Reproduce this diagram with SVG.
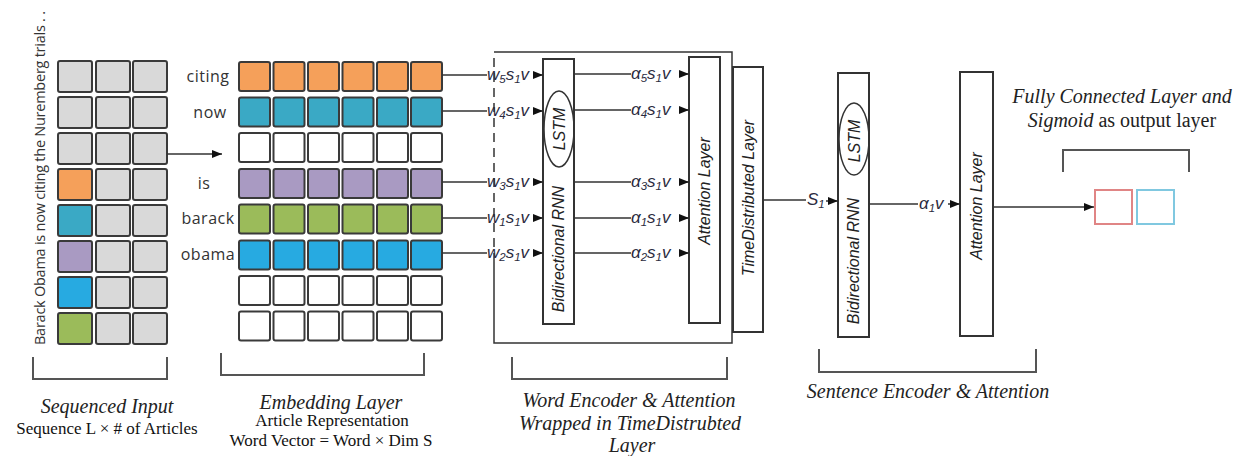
<svg xmlns="http://www.w3.org/2000/svg" width="1246" height="456" viewBox="0 0 1246 456">
  <style>
    .cell { stroke: #3a3a3a; stroke-width: 2; }
    .gray { fill: #d9d9d9; }
    .white { fill: #ffffff; }
    .orange { fill: #f5a05a; }
    .teal { fill: #3aa9c5; }
    .purple { fill: #a99ac2; }
    .green { fill: #9bbb5a; }
    .blue { fill: #27aae1; }
    .box { fill: #ffffff; stroke: #333333; stroke-width: 2; }
    .line { fill: none; stroke: #333333; stroke-width: 1.5; }
    .bracket { fill: none; stroke: #555555; stroke-width: 2; }
    .word { font-family: "Open Sans", "Liberation Sans", sans-serif; font-size: 16px; fill: #333333; text-anchor: middle; letter-spacing: 0.5px; }
    .sentence { font-family: "Open Sans", "Liberation Sans", sans-serif; font-size: 14.5px; fill: #333333; text-anchor: middle; }
    .layer { font-family: "Liberation Sans", sans-serif; font-size: 16px; font-style: italic; fill: #222222; text-anchor: middle; }
    .math { font-family: "Liberation Sans", sans-serif; font-size: 17px; font-style: italic; fill: #2b2b40; }
    .sub { font-size: 11.5px; }
    .cap { font-family: "Liberation Serif", serif; font-size: 20px; font-style: italic; fill: #222222; text-anchor: middle; }
    .cap2 { font-family: "Liberation Serif", serif; font-size: 17px; fill: #111111; text-anchor: middle; }
  </style>
  <defs>
    <marker id="arrow" markerUnits="userSpaceOnUse" markerWidth="10" markerHeight="8" refX="10" refY="4" orient="auto">
      <path d="M0,0 L10,4 L0,8 Z" fill="#111111"/>
    </marker>
  </defs>

  <!-- sentence written vertically beside the input grid -->
  <text class="sentence" transform="translate(45,178) rotate(-90)" textLength="334" lengthAdjust="spacing">Barack Obama is now citing  the Nuremberg trials . .</text>

  <!-- sequenced input grid: 8 rows x 3 columns -->
  <g id="sequenced-input">
    <rect class="cell gray" x="58" y="61" width="34" height="31" rx="2"/>
    <rect class="cell gray" x="96" y="61" width="34" height="31" rx="2"/>
    <rect class="cell gray" x="133" y="61" width="34" height="31" rx="2"/>
    <rect class="cell gray" x="58" y="97" width="34" height="31" rx="2"/>
    <rect class="cell gray" x="96" y="97" width="34" height="31" rx="2"/>
    <rect class="cell gray" x="133" y="97" width="34" height="31" rx="2"/>
    <rect class="cell gray" x="58" y="133" width="34" height="31" rx="2"/>
    <rect class="cell gray" x="96" y="133" width="34" height="31" rx="2"/>
    <rect class="cell gray" x="133" y="133" width="34" height="31" rx="2"/>
    <rect class="cell orange" x="58" y="169" width="34" height="31" rx="2"/>
    <rect class="cell gray" x="96" y="169" width="34" height="31" rx="2"/>
    <rect class="cell gray" x="133" y="169" width="34" height="31" rx="2"/>
    <rect class="cell teal" x="58" y="205" width="34" height="31" rx="2"/>
    <rect class="cell gray" x="96" y="205" width="34" height="31" rx="2"/>
    <rect class="cell gray" x="133" y="205" width="34" height="31" rx="2"/>
    <rect class="cell purple" x="58" y="241" width="34" height="31" rx="2"/>
    <rect class="cell gray" x="96" y="241" width="34" height="31" rx="2"/>
    <rect class="cell gray" x="133" y="241" width="34" height="31" rx="2"/>
    <rect class="cell blue" x="58" y="277" width="34" height="31" rx="2"/>
    <rect class="cell gray" x="96" y="277" width="34" height="31" rx="2"/>
    <rect class="cell gray" x="133" y="277" width="34" height="31" rx="2"/>
    <rect class="cell green" x="58" y="313" width="34" height="31" rx="2"/>
    <rect class="cell gray" x="96" y="313" width="34" height="31" rx="2"/>
    <rect class="cell gray" x="133" y="313" width="34" height="31" rx="2"/>
  </g>

  <!-- embedding layer grid: 8 rows x 6 columns -->
  <g id="embedding-layer">
    <g class="cell orange">
      <rect x="239" y="62" width="31" height="29" rx="2"/><rect x="273.5" y="62" width="31" height="29" rx="2"/><rect x="308" y="62" width="31" height="29" rx="2"/>
      <rect x="342.5" y="62" width="31" height="29" rx="2"/><rect x="377" y="62" width="31" height="29" rx="2"/><rect x="411" y="62" width="31" height="29" rx="2"/>
    </g>
    <g class="cell teal">
      <rect x="239" y="97.5" width="31" height="29" rx="2"/><rect x="273.5" y="97.5" width="31" height="29" rx="2"/><rect x="308" y="97.5" width="31" height="29" rx="2"/>
      <rect x="342.5" y="97.5" width="31" height="29" rx="2"/><rect x="377" y="97.5" width="31" height="29" rx="2"/><rect x="411" y="97.5" width="31" height="29" rx="2"/>
    </g>
    <g class="cell white">
      <rect x="239" y="133" width="31" height="29" rx="2"/><rect x="273.5" y="133" width="31" height="29" rx="2"/><rect x="308" y="133" width="31" height="29" rx="2"/>
      <rect x="342.5" y="133" width="31" height="29" rx="2"/><rect x="377" y="133" width="31" height="29" rx="2"/><rect x="411" y="133" width="31" height="29" rx="2"/>
    </g>
    <g class="cell purple">
      <rect x="239" y="169" width="31" height="29" rx="2"/><rect x="273.5" y="169" width="31" height="29" rx="2"/><rect x="308" y="169" width="31" height="29" rx="2"/>
      <rect x="342.5" y="169" width="31" height="29" rx="2"/><rect x="377" y="169" width="31" height="29" rx="2"/><rect x="411" y="169" width="31" height="29" rx="2"/>
    </g>
    <g class="cell green">
      <rect x="239" y="204.5" width="31" height="29" rx="2"/><rect x="273.5" y="204.5" width="31" height="29" rx="2"/><rect x="308" y="204.5" width="31" height="29" rx="2"/>
      <rect x="342.5" y="204.5" width="31" height="29" rx="2"/><rect x="377" y="204.5" width="31" height="29" rx="2"/><rect x="411" y="204.5" width="31" height="29" rx="2"/>
    </g>
    <g class="cell blue">
      <rect x="239" y="240.5" width="31" height="29" rx="2"/><rect x="273.5" y="240.5" width="31" height="29" rx="2"/><rect x="308" y="240.5" width="31" height="29" rx="2"/>
      <rect x="342.5" y="240.5" width="31" height="29" rx="2"/><rect x="377" y="240.5" width="31" height="29" rx="2"/><rect x="411" y="240.5" width="31" height="29" rx="2"/>
    </g>
    <g class="cell white">
      <rect x="239" y="276" width="31" height="29" rx="2"/><rect x="273.5" y="276" width="31" height="29" rx="2"/><rect x="308" y="276" width="31" height="29" rx="2"/>
      <rect x="342.5" y="276" width="31" height="29" rx="2"/><rect x="377" y="276" width="31" height="29" rx="2"/><rect x="411" y="276" width="31" height="29" rx="2"/>
    </g>
    <g class="cell white">
      <rect x="239" y="311.5" width="31" height="29" rx="2"/><rect x="273.5" y="311.5" width="31" height="29" rx="2"/><rect x="308" y="311.5" width="31" height="29" rx="2"/>
      <rect x="342.5" y="311.5" width="31" height="29" rx="2"/><rect x="377" y="311.5" width="31" height="29" rx="2"/><rect x="411" y="311.5" width="31" height="29" rx="2"/>
    </g>
    <text class="word" x="208" y="82">citing</text>
    <text class="word" x="210" y="118">now</text>
    <text class="word" x="204" y="189">is</text>
    <text class="word" x="208" y="224">barack</text>
    <text class="word" x="208" y="260">obama</text>
  </g>

  <!-- word encoder & attention, wrapped in the time-distributed layer -->
  <g id="word-encoder">
    <path class="line" d="M494,52 H732 V343 H494 V262" stroke-width="2"/>
    <path class="line" d="M494,262 V52" stroke-width="2" stroke-dasharray="9 6"/>
    <rect class="box" x="543" y="59" width="31" height="265"/>
    <ellipse cx="559" cy="129" rx="15" ry="38" fill="none" stroke="#333333" stroke-width="1.5"/>
    <text class="layer" transform="translate(564,249) rotate(-90)">Bidirectional RNN</text>
    <text class="layer" transform="translate(565,129) rotate(-90)">LSTM</text>
    <rect class="box" x="689" y="57" width="31" height="266"/>
    <text class="layer" transform="translate(710,191) rotate(-90)">Attention Layer</text>
  </g>
  <g id="time-distributed">
    <rect class="box" x="733" y="67" width="30" height="265"/>
    <text class="layer" transform="translate(754,198) rotate(-90)">TimeDistributed Layer</text>
  </g>

  <!-- sentence encoder & attention -->
  <g id="sentence-encoder">
    <rect class="box" x="838" y="73" width="31" height="264"/>
    <ellipse cx="854" cy="139" rx="15" ry="36" fill="none" stroke="#333333" stroke-width="1.5"/>
    <text class="layer" transform="translate(859,261) rotate(-90)">Bidirectional RNN</text>
    <text class="layer" transform="translate(860,141) rotate(-90)">LSTM</text>
  </g>
  <g id="sentence-attention">
    <rect class="box" x="960" y="72" width="33" height="264"/>
    <text class="layer" transform="translate(982,206) rotate(-90)">Attention Layer</text>
  </g>

  <!-- output layer -->
  <g id="output-layer">
    <rect x="1095" y="190" width="37" height="34" fill="#ffffff" stroke="#e08585" stroke-width="2"/>
    <rect x="1137" y="190" width="37" height="34" fill="#ffffff" stroke="#80c8e0" stroke-width="2"/>
    <text class="cap" x="1122" y="103">Fully Connected Layer and</text>
    <text class="cap" x="1122" y="127"><tspan>Sigmoid</tspan><tspan font-style="normal"> as output layer</tspan></text>
  </g>

  <!-- connectors -->
  <g id="connectors">
    <path class="line" d="M167,154 H222" marker-end="url(#arrow)"/>

    <path class="line" d="M442,75 H487 M442,111 H487 M442,182 H487 M442,218 H487 M442,253 H487"/>
    <path class="line" d="M535,75 H543" marker-end="url(#arrow)"/>
    <path class="line" d="M535,111 H543" marker-end="url(#arrow)"/>
    <path class="line" d="M535,182 H543" marker-end="url(#arrow)"/>
    <path class="line" d="M535,218 H543" marker-end="url(#arrow)"/>
    <path class="line" d="M535,253 H543" marker-end="url(#arrow)"/>

    <path class="line" d="M574,74 H631 M574,110 H631 M574,182 H631 M574,218 H631 M574,253 H631"/>
    <path class="line" d="M679,74 H689" marker-end="url(#arrow)"/>
    <path class="line" d="M679,110 H689" marker-end="url(#arrow)"/>
    <path class="line" d="M679,182 H689" marker-end="url(#arrow)"/>
    <path class="line" d="M679,218 H689" marker-end="url(#arrow)"/>
    <path class="line" d="M679,253 H689" marker-end="url(#arrow)"/>

    <path class="line" d="M763,200 H806"/>
    <path class="line" d="M826,201 H838" marker-end="url(#arrow)"/>
    <path class="line" d="M869,204 H918"/>
    <path class="line" d="M948,204 H960" marker-end="url(#arrow)"/>
    <path class="line" d="M993,207 H1094" marker-end="url(#arrow)"/>

    <path class="bracket" d="M1063,172 V150 H1189 V172"/>
    <path class="bracket" d="M33,357 V379 H167 V357"/>
    <path class="bracket" d="M221,353 V375 H424 V353"/>
    <path class="bracket" d="M512,357 V379 H727 V357"/>
    <path class="bracket" d="M819,349 V372 H1036 V349"/>
  </g>

  <!-- connector labels -->
  <g id="connector-labels">
    <text class="math" x="487" y="80">w<tspan class="sub" dy="3">5</tspan><tspan dy="-3">s</tspan><tspan class="sub" dy="3">1</tspan><tspan dy="-3">v</tspan></text>
    <text class="math" x="487" y="116">w<tspan class="sub" dy="3">4</tspan><tspan dy="-3">s</tspan><tspan class="sub" dy="3">1</tspan><tspan dy="-3">v</tspan></text>
    <text class="math" x="487" y="187">w<tspan class="sub" dy="3">3</tspan><tspan dy="-3">s</tspan><tspan class="sub" dy="3">1</tspan><tspan dy="-3">v</tspan></text>
    <text class="math" x="487" y="223">w<tspan class="sub" dy="3">1</tspan><tspan dy="-3">s</tspan><tspan class="sub" dy="3">1</tspan><tspan dy="-3">v</tspan></text>
    <text class="math" x="487" y="258">w<tspan class="sub" dy="3">2</tspan><tspan dy="-3">s</tspan><tspan class="sub" dy="3">1</tspan><tspan dy="-3">v</tspan></text>

    <text class="math" x="631" y="79">α<tspan class="sub" dy="3">5</tspan><tspan dy="-3">s</tspan><tspan class="sub" dy="3">1</tspan><tspan dy="-3">v</tspan></text>
    <text class="math" x="631" y="115">α<tspan class="sub" dy="3">4</tspan><tspan dy="-3">s</tspan><tspan class="sub" dy="3">1</tspan><tspan dy="-3">v</tspan></text>
    <text class="math" x="631" y="187">α<tspan class="sub" dy="3">3</tspan><tspan dy="-3">s</tspan><tspan class="sub" dy="3">1</tspan><tspan dy="-3">v</tspan></text>
    <text class="math" x="631" y="223">α<tspan class="sub" dy="3">1</tspan><tspan dy="-3">s</tspan><tspan class="sub" dy="3">1</tspan><tspan dy="-3">v</tspan></text>
    <text class="math" x="631" y="258">α<tspan class="sub" dy="3">2</tspan><tspan dy="-3">s</tspan><tspan class="sub" dy="3">1</tspan><tspan dy="-3">v</tspan></text>

    <text class="math" x="807" y="205" font-style="normal">S<tspan class="sub" dy="3">1</tspan></text>
    <text class="math" x="919" y="209">α<tspan class="sub" dy="3">1</tspan><tspan dy="-3">v</tspan></text>
  </g>

  <!-- captions under each stage -->
  <g id="captions">
    <text class="cap" x="107" y="413">Sequenced Input</text>
    <text class="cap2" x="107" y="434">Sequence L ×  # of Articles</text>
    <text class="cap" x="331" y="409">Embedding Layer</text>
    <text class="cap2" x="332" y="426">Article Representation</text>
    <text class="cap2" x="331" y="446">Word Vector = Word × Dim S</text>
    <text class="cap" x="629" y="407">Word Encoder &amp; Attention</text>
    <text class="cap" x="630" y="430">Wrapped in TimeDistrubted</text>
    <text class="cap" x="632" y="452">Layer</text>
    <text class="cap" x="928" y="398">Sentence Encoder &amp; Attention</text>
  </g>
</svg>
